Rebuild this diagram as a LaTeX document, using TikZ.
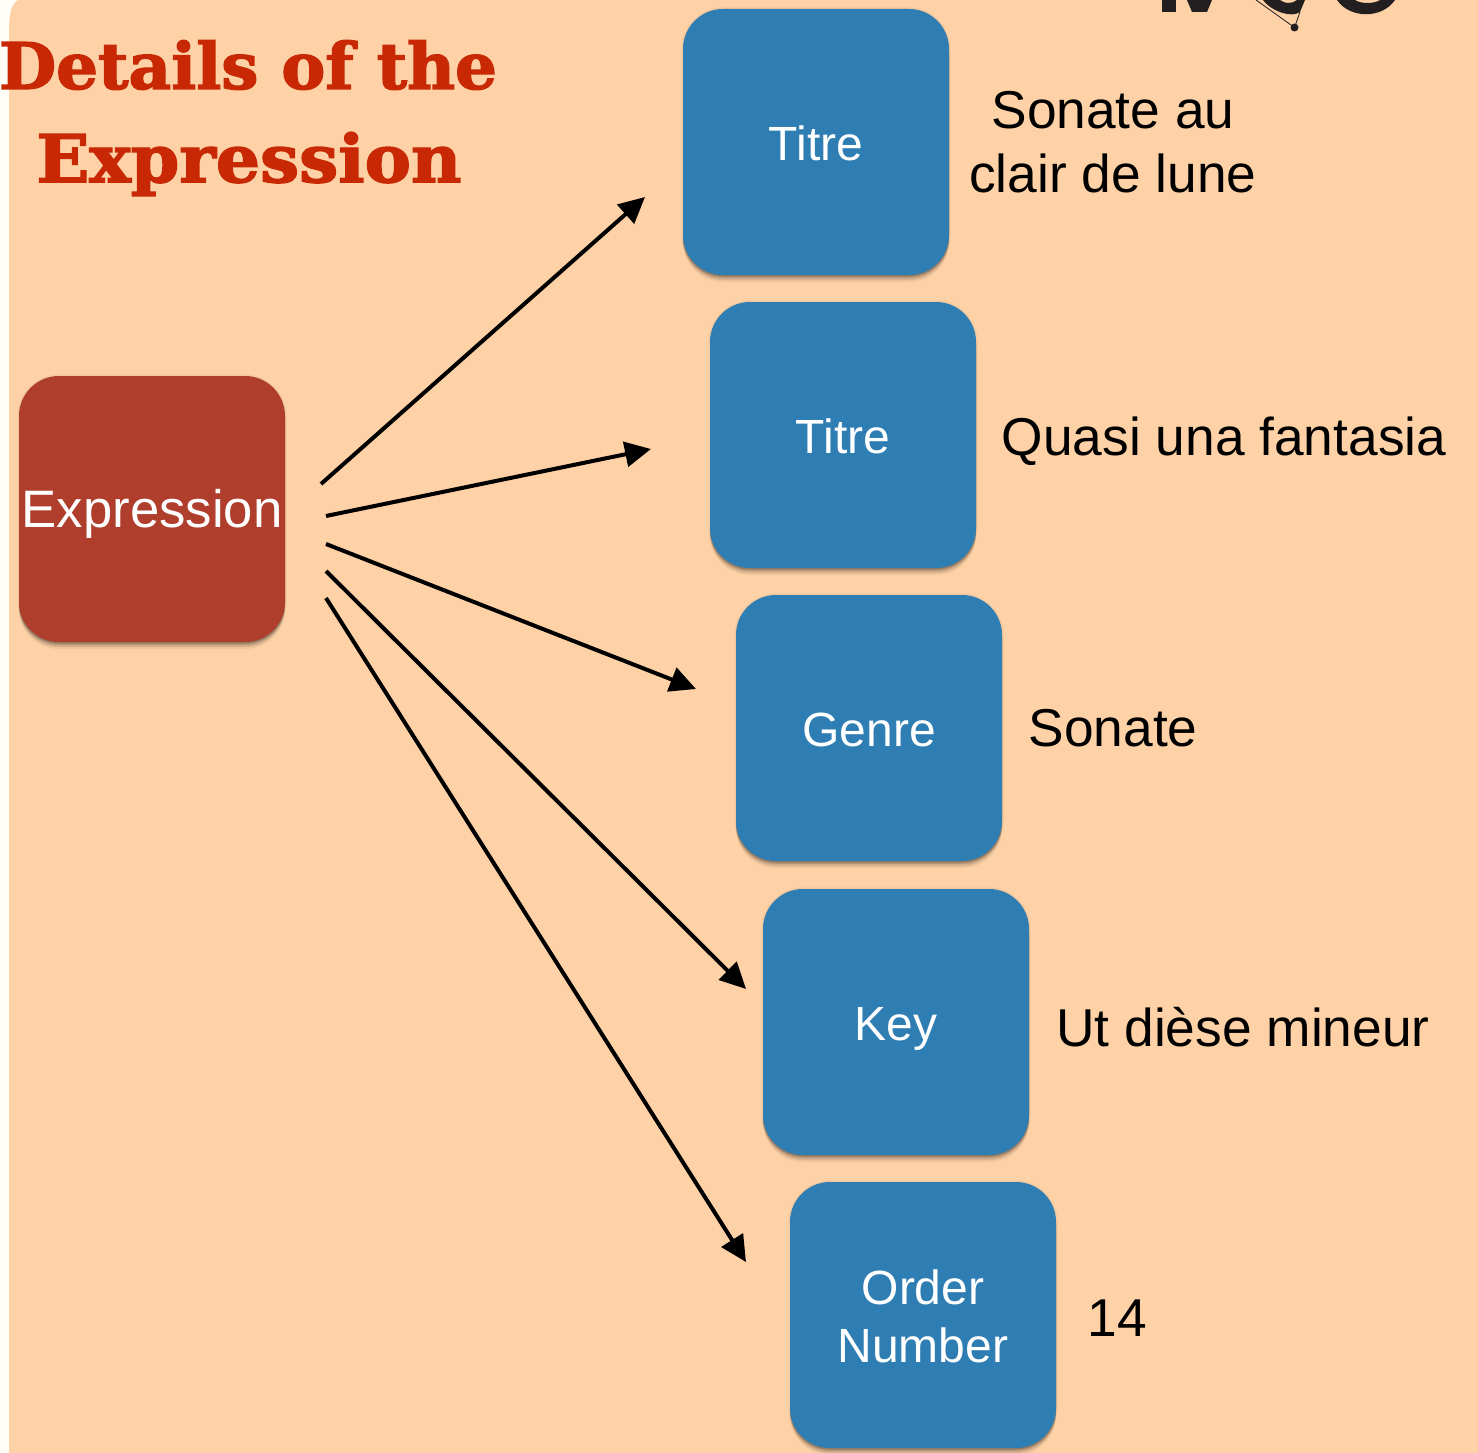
\documentclass[tikz,border=0pt]{standalone}
\usepackage{fontspec}
\setmainfont{Liberation Sans}
\newfontfamily\titlefont{DejaVu Serif Bold}[FakeBold=2.2]
\usetikzlibrary{arrows.meta}
\definecolor{pagebg}{HTML}{FFFFF8}
\definecolor{panel}{HTML}{FED2A6}
\definecolor{boxblue}{HTML}{2E7DB3}
\definecolor{boxred}{HTML}{B03E2C}
\definecolor{titlered}{HTML}{C82804}
\definecolor{logo}{HTML}{231F20}
\newcommand{\lbl}[2]{\raisebox{#1pt}[0pt][0pt]{#2}}
\tikzset{
  x=1pt,y=-1pt,
  softshade/.style={
    preaction={fill=black,fill opacity=.06,transform canvas={yshift=-7pt}},
    preaction={fill=black,fill opacity=.10,transform canvas={yshift=-5pt}},
    preaction={fill=black,fill opacity=.14,transform canvas={yshift=-3pt}},
    preaction={fill=black,fill opacity=.14,transform canvas={yshift=-1.5pt}},
    preaction={draw=black,line width=3pt,draw opacity=.05}},
  tile/.style={minimum width=266pt,minimum height=266pt,rounded corners=40pt,inner sep=0pt,text=white,align=center,
    font=\fontsize{48}{58}\selectfont,softshade},
  bluetile/.style={tile,fill=boxblue},
  redtile/.style={tile,fill=boxred,font=\fontsize{52.7}{60}\selectfont},
  value/.style={text=black,align=center,inner sep=0pt,font=\fontsize{53.3}{64}\selectfont},
  heading/.style={text=titlered,inner sep=0pt,font=\titlefont\fontsize{64}{70}\selectfont},
  link/.style={line width=4pt,draw=black,-{Triangle[length=26pt,width=25pt]}},
}
\begin{document}
\begin{tikzpicture}
\useasboundingbox (0,0) rectangle (1478,1453);
\clip (0,0) rectangle (1478,1453);
\fill[pagebg] (0,0) rectangle (1478,1453);
\fill[panel] (9,1453) -- (9,30) .. controls (9,12) and (12,4) .. (18,0) -- (1478,0) -- (1478,1453) -- cycle;

% logo fragment, cut by the page edge
\fill[logo] (1162,0) rectangle (1176,12);
\fill[logo] (1187,0) -- (1212,0) -- (1207,12) -- (1192,12) -- cycle;
\fill[logo] (1263,0) .. controls (1272,12) and (1292,18) .. (1300,12) -- (1305,0) -- (1297,0) .. controls (1292,4) and (1285,4) .. (1280,0) -- cycle;
\fill[logo] (1337,0) .. controls (1350,19) and (1382,19) .. (1395,0) -- (1380,0) .. controls (1374,4) and (1361,4) .. (1355,0) -- cycle;
\coordinate (logoA) at (1256,0);
\coordinate (logoB) at (1300,12);
\node[circle,fill=logo,minimum size=8pt,inner sep=0pt] (logodot) at (1294.5,27.5) {};
\draw[logo,line width=.8pt] (logoA) -- (logodot.center) -- (logoB);

% tiles
\node[redtile] (expr) at (152,509) {\lbl{-18}{Expression}};
\node[bluetile] (t1) at (816,142) {\lbl{-19}{Titre}};
\node[bluetile] (t2) at (843,435) {\lbl{-18}{Titre}};
\node[bluetile] (t3) at (869,728) {\lbl{-18}{Genre}};
\node[bluetile] (t4) at (896,1022) {\lbl{-18}{Key}};
\node[bluetile] (t5) at (923,1315) {\lbl{-18}{Order}\\\lbl{-18}{Number}};

% title
\node[heading] (h1) at (248,65) {\scalebox{1.03}[1]{Details of the}};
\node[heading] (h2) at (249,164) {\scalebox{1.085}[1.03]{Expression}};

% values
\node[value] (v1) at (1113,142) {Sonate au\\clair de lune};
\node[value] (v2) at (1224,441) {Quasi una fantasia};
\node[value] (v3) at (1113,728) {Sonate};
\node[value] (v4) at (1243,1027) {Ut dièse mineur};
\node[value] (v5) at (1117,1318) {14};

% connector ends
\coordinate (s1) at (321,484); \coordinate (e1) at (645,197);
\coordinate (s2) at (326,516); \coordinate (e2) at (651,449);
\coordinate (s3) at (326,544); \coordinate (e3) at (696,689);
\coordinate (s4) at (326,571); \coordinate (e4) at (746,989);
\coordinate (s5) at (326,598); \coordinate (e5) at (746,1262);
\foreach \i in {1,...,5} \draw[link] (s\i) -- (e\i);
\end{tikzpicture}
\end{document}
